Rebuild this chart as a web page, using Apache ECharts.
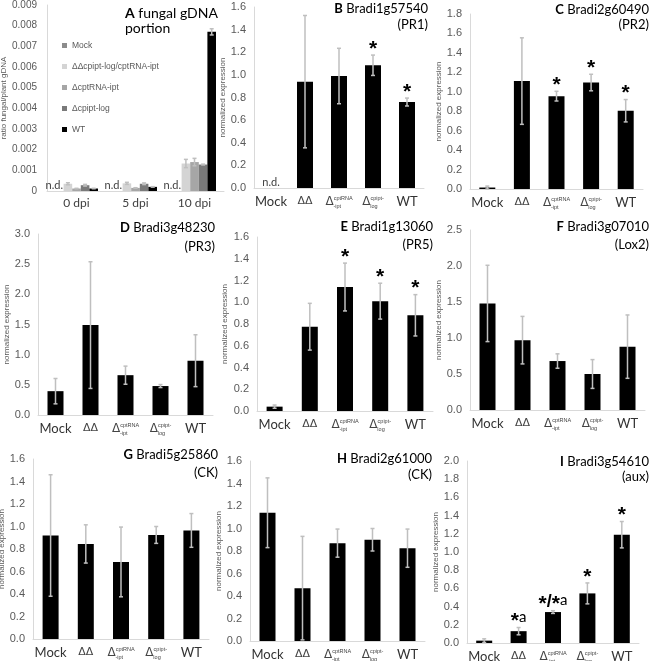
<!DOCTYPE html>
<html><head><meta charset="utf-8">
<script src="https://cdn.jsdelivr.net/npm/echarts@6/dist/echarts.min.js"></script>
<style>html,body{margin:0;padding:0;background:#fff}#c{width:651px;height:661px}</style>
</head><body><div id="c"></div>
<script>
// ---------- Panel A data ----------
const dpiLabels = ['0 dpi', '5 dpi', '10 dpi'];
const strainNamesA = ['Mock', 'ΔΔcpipt-log/cptRNA-ipt', 'ΔcptRNA-ipt', 'Δcpipt-log', 'WT'];
const aMock = [0, 0, 0];
const aMockErr = [0, 0, 0];
const aDD = [0.00035, 0.00037, 0.00133];
const aDDErr = [0.00005, 0.00005, 0.0002];
const aCpt = [0.00012, 0.00015, 0.0014];
const aCptErr = [0.00001, 0.00001, 0.00018];
const aCpipt = [0.00028, 0.00035, 0.00128];
const aCpiptErr = [0.00004, 0.00004, 0.00002];
const aWT = [0.00012, 0.0002, 0.0077];
const aWTErr = [0.00001, 0.00001, 0.00015];
const aColors = ['#8c8c8c', '#d4d4d4', '#a6a6a6', '#7a7a7a', '#000000'];

// ---------- Panels B–I data ----------
const genotypes = ['Mock', 'ΔΔ', 'ΔcptRNA-ipt', 'Δcpipt-log', 'WT'];

const pr1Mean = [0, 0.94, 0.99, 1.085, 0.76];
const pr1Err  = [0, 0.585, 0.245, 0.09, 0.035];
const pr1Sig  = ['', '', '', '*', '*'];

const pr2Mean = [0.015, 1.11, 0.955, 1.095, 0.805];
const pr2Err  = [0.015, 0.445, 0.05, 0.085, 0.115];
const pr2Sig  = ['', '', '*', '*', '*'];

const pr3Mean = [0.395, 1.49, 0.66, 0.48, 0.9];
const pr3Err  = [0.21, 1.05, 0.15, 0.025, 0.43];
const pr3Sig  = ['', '', '', '', ''];

const pr5Mean = [0.04, 0.775, 1.14, 1.01, 0.88];
const pr5Err  = [0.015, 0.215, 0.22, 0.165, 0.19];
const pr5Sig  = ['', '', '*', '*', '*'];

const lox2Mean = [1.48, 0.97, 0.68, 0.5, 0.88];
const lox2Err  = [0.53, 0.33, 0.1, 0.2, 0.44];
const lox2Sig  = ['', '', '', '', ''];

const ck1Mean = [0.92, 0.845, 0.685, 0.925, 0.965];
const ck1Err  = [0.54, 0.17, 0.31, 0.075, 0.15];
const ck1Sig  = ['', '', '', '', ''];

const ck2Mean = [1.14, 0.47, 0.87, 0.9, 0.825];
const ck2Err  = [0.31, 0.46, 0.125, 0.1, 0.17];
const ck2Sig  = ['', '', '', '', ''];

const auxMean = [0.026, 0.13, 0.34, 0.545, 1.19];
const auxErr  = [0.02, 0.04, 0.015, 0.115, 0.145];
const auxSig  = ['', '*a', '*/*a', '*', '*'];

// ---------- layout ----------
const panels = [
  {L:'B', gene:'Bradi1g57540', tag:'(PR1)', mean:pr1Mean, err:pr1Err, sig:pr1Sig, max:1.6, step:0.2, nd:true,
   grid:{left:254, top:7, width:170, height:181}, nameGap:27, tRight:223, tTop:[1, 17]},
  {L:'C', gene:'Bradi2g60490', tag:'(PR2)', mean:pr2Mean, err:pr2Err, sig:pr2Sig, max:1.8, step:0.2,
   grid:{left:470, top:14, width:173, height:175}, nameGap:26, tRight:2, tTop:[2, 17]},
  {L:'D', gene:'Bradi3g48230', tag:'(PR3)', mean:pr3Mean, err:pr3Err, sig:pr3Sig, max:3.0, step:0.5,
   grid:{left:38, top:234, width:175, height:181}, nameGap:27, tRight:436, tTop:[220, 239]},
  {L:'E', gene:'Bradi1g13060', tag:'(PR5)', mean:pr5Mean, err:pr5Err, sig:pr5Sig, max:1.6, step:0.2,
   grid:{left:257, top:237, width:176, height:174}, nameGap:28, tRight:218, tTop:[219, 237]},
  {L:'F', gene:'Bradi3g07010', tag:'(Lox2)', mean:lox2Mean, err:lox2Err, sig:lox2Sig, max:2.5, step:0.5,
   grid:{left:470, top:230, width:175, height:180}, nameGap:27, tRight:2, tTop:[219, 237]},
  {L:'G', gene:'Bradi5g25860', tag:'(CK)', mean:ck1Mean, err:ck1Err, sig:ck1Sig, max:1.6, step:0.2,
   grid:{left:33, top:459, width:176, height:180}, nameGap:24, tRight:433, tTop:[447, 465]},
  {L:'H', gene:'Bradi2g61000', tag:'(CK)', mean:ck2Mean, err:ck2Err, sig:ck2Sig, max:1.6, step:0.2,
   grid:{left:250, top:461, width:175, height:180}, nameGap:27, tRight:219, tTop:[451, 467]},
  {L:'I', gene:'Bradi3g54610', tag:'(aux)', mean:auxMean, err:auxErr, sig:auxSig, max:2.0, step:0.2,
   grid:{left:467, top:461, width:172, height:182}, nameGap:24, tRight:2, tTop:[454, 469]}
];

const AXIS_COLOR = '#d9d9d9';
const LABEL_COLOR = '#595959';
const ERR_COLOR = '#bfbfbf';

function errRenderer(offset) {
  return function (params, api) {
    const x = api.value(0), m = api.value(1), e = api.value(2);
    if (!(e > 0)) return null;
    const hi = api.coord([x, m + e]);
    const lo = api.coord([x, Math.max(0, m - e)]);
    const cx = hi[0] + offset;
    const cap = 2;
    const st = {stroke: ERR_COLOR, lineWidth: 1.5};
    return {type: 'group', children: [
      {type: 'line', shape: {x1: cx, y1: hi[1], x2: cx, y2: lo[1]}, style: st},
      {type: 'line', shape: {x1: cx - cap, y1: hi[1], x2: cx + cap, y2: hi[1]}, style: st},
      {type: 'line', shape: {x1: cx - cap, y1: lo[1], x2: cx + cap, y2: lo[1]}, style: st}
    ]};
  };
}

function sigRenderer(sigArr) {
  return function (params, api) {
    const s = sigArr[params.dataIndex];
    if (!s) return null;
    const p = api.coord([api.value(0), api.value(1)]);
    let txt = '';
    for (const ch of s) {
      if (ch === '*') txt += '{s|*}';
      else if (ch === '/') txt += '{sl|/}';
      else txt += '{n|' + ch + '}';
    }
    return {type: 'text', x: p[0], y: p[1] - 6, style: {
      text: txt, align: 'center', verticalAlign: 'middle',
      rich: {
        s: {fontFamily: 'Liberation Sans', fontSize: 21, fontWeight: 'bold', fill: '#000', lineHeight: 20},
        sl: {fontFamily: 'Liberation Sans', fontSize: 18, fontWeight: 'bold', fill: '#000', lineHeight: 20, padding: [0, 0, 6, 0]},
        n: {fontFamily: 'Lato', fontSize: 15, fill: '#000', lineHeight: 20, padding: [0, 0, 9, 0]}
      }
    }};
  };
}

function xLabelFormatter(v) {
  if (v === 'ΔcptRNA-ipt') return '{d|Δ}{sup|cptRNA}\n{sp| }{sub|-ipt}';
  if (v === 'Δcpipt-log') return '{d|Δ}{sup|cpipt-}\n{sp| }{sub|log}';
  if (v === 'ΔΔ') return '{t|ΔΔ}';
  return '{m|' + v + '}';
}
const xRich = {
  m: {fontFamily: 'Lato', fontSize: 13, lineHeight: 9, color: '#333', align: 'left'},
  t: {fontFamily: 'DejaVu Sans', fontSize: 11, lineHeight: 9, color: '#444', align: 'left'},
  d: {fontFamily: 'DejaVu Sans', fontSize: 12, lineHeight: 9, color: '#444', align: 'left'},
  sup: {fontFamily: 'Liberation Sans', fontSize: 5.5, lineHeight: 9, color: '#444', align: 'left', padding: [0, 0, 6, 0]},
  sp: {width: 8, fontSize: 4, lineHeight: 2, align: 'left'},
  sub: {fontFamily: 'Liberation Sans', fontSize: 5.5, lineHeight: 2, color: '#444', align: 'left', padding: [0, 0, 2, 0]}
};

const grids = [], xAxes = [], yAxes = [], series = [], titles = [];

// ---------- Panel A ----------
grids.push({left: 47, top: 5, width: 177, height: 186, outerBoundsMode: 'none', containLabel: false});
xAxes.push({type: 'category', gridIndex: 0, data: dpiLabels,
  axisLine: {lineStyle: {color: AXIS_COLOR}}, axisTick: {show: false},
  axisLabel: {fontFamily: 'Lato', fontSize: 12, color: '#404040', margin: 6, lineHeight: 12}});
yAxes.push({type: 'value', gridIndex: 0, min: 0, max: 0.009, interval: 0.001,
  name: 'ratio fungal/plant gDNA', nameLocation: 'middle', nameGap: 36,
  nameTextStyle: {fontFamily: 'Liberation Sans', fontSize: 8, color: LABEL_COLOR},
  axisLine: {show: true, lineStyle: {color: AXIS_COLOR}}, axisTick: {show: false}, splitLine: {show: false},
  axisLabel: {fontFamily: 'Liberation Sans', fontSize: 10, color: LABEL_COLOR, margin: 10,
    formatter: v => v === 0 ? '0' : v.toFixed(3)}});
const aVals = [aMock, aDD, aCpt, aCpipt, aWT];
const aErrs = [aMockErr, aDDErr, aCptErr, aCpiptErr, aWTErr];
const aBarW = 8.6;
aVals.forEach((vals, k) => {
  series.push({type: 'bar', name: strainNamesA[k], xAxisIndex: 0, yAxisIndex: 0,
    barWidth: aBarW, barGap: '0%', itemStyle: {color: aColors[k]},
    label: k === 0 ? {show: true, position: 'top', distance: 0, offset: [-5, 0], formatter: 'n.d.',
      fontFamily: 'Lato', fontSize: 11, color: '#404040'} : {show: false},
    data: vals});
  series.push({type: 'custom', xAxisIndex: 0, yAxisIndex: 0, z: 5, clip: false,
    renderItem: errRenderer((k - 2) * aBarW),
    encode: {x: 0, y: 1},
    data: vals.map((v, i) => [i, v, aErrs[k][i]])});
});
titles.push({text: '{b|A} fungal gDNA', left: 125, top: 5, padding: 0,
  textStyle: {fontFamily: 'Lato', fontSize: 14, fontWeight: 'normal', color: '#000', lineHeight: 16,
    rich: {b: {fontFamily: 'Lato', fontSize: 14, fontWeight: 'bold', color: '#000', lineHeight: 16}}}});
titles.push({text: 'portion', left: 125, top: 20, padding: 0,
  textStyle: {fontFamily: 'Lato', fontSize: 14, fontWeight: 'normal', color: '#000', lineHeight: 16}});

// ---------- Panels B–I ----------
panels.forEach((p, idx) => {
  const gi = idx + 1;
  grids.push(Object.assign({outerBoundsMode: 'none', containLabel: false}, p.grid));
  xAxes.push({type: 'category', gridIndex: gi, data: genotypes,
    axisLine: {lineStyle: {color: AXIS_COLOR}}, axisTick: {show: false},
    axisLabel: {interval: 0, margin: 9, formatter: xLabelFormatter, rich: xRich}});
  yAxes.push({type: 'value', gridIndex: gi, min: 0, max: p.max, interval: p.step,
    name: 'normalized expression', nameLocation: 'middle', nameGap: p.nameGap,
    nameTextStyle: {fontFamily: 'Liberation Sans', fontSize: 8, color: LABEL_COLOR},
    axisLine: {show: true, lineStyle: {color: AXIS_COLOR}}, axisTick: {show: false}, splitLine: {show: false},
    axisLabel: {fontFamily: 'Liberation Sans', fontSize: 11, color: LABEL_COLOR, margin: 8,
      formatter: v => v.toFixed(1)}});
  series.push({type: 'bar', name: 'panel' + p.L, xAxisIndex: gi, yAxisIndex: gi, barWidth: 16,
    itemStyle: {color: '#000'},
    data: p.mean.map((v, i) => (p.nd && i === 0) ? {value: v, label: {show: true, position: 'top', distance: 0,
      formatter: 'n.d.', fontFamily: 'Lato', fontSize: 11, color: '#404040'}} : v)});
  series.push({type: 'custom', xAxisIndex: gi, yAxisIndex: gi, z: 5, clip: false,
    renderItem: errRenderer(0), encode: {x: 0, y: 1},
    data: p.mean.map((v, i) => [i, v, p.err[i]])});
  series.push({type: 'custom', xAxisIndex: gi, yAxisIndex: gi, z: 6, clip: false,
    renderItem: sigRenderer(p.sig), encode: {x: 0, y: 1},
    data: p.mean.map((v, i) => [i, v + p.err[i]])});
  titles.push({text: '{b|' + p.L + '} ' + p.gene, right: p.tRight, top: p.tTop[0], padding: 0,
    textStyle: {fontFamily: 'Lato', fontSize: 13, fontWeight: 'normal', color: '#000', lineHeight: 16,
      rich: {b: {fontFamily: 'Lato', fontSize: 13, fontWeight: 'bold', color: '#000', lineHeight: 16}}}});
  titles.push({text: p.tag, right: p.tRight, top: p.tTop[1], padding: 0,
    textStyle: {fontFamily: 'Lato', fontSize: 13, fontWeight: 'normal', color: '#000', lineHeight: 16}});
});

const chart = echarts.init(document.getElementById('c'));
chart.setOption({
  animation: false,
  backgroundColor: '#fff',
  textStyle: {fontFamily: 'Liberation Sans'},
  title: titles,
  legend: {data: strainNamesA, orient: 'vertical', left: 62, top: 41, itemGap: 12,
    itemWidth: 5, itemHeight: 5, icon: 'rect', padding: 0,
    textStyle: {fontFamily: 'Liberation Sans', fontSize: 8.5, color: LABEL_COLOR}},
  grid: grids, xAxis: xAxes, yAxis: yAxes, series: series
});
</script></body></html>
